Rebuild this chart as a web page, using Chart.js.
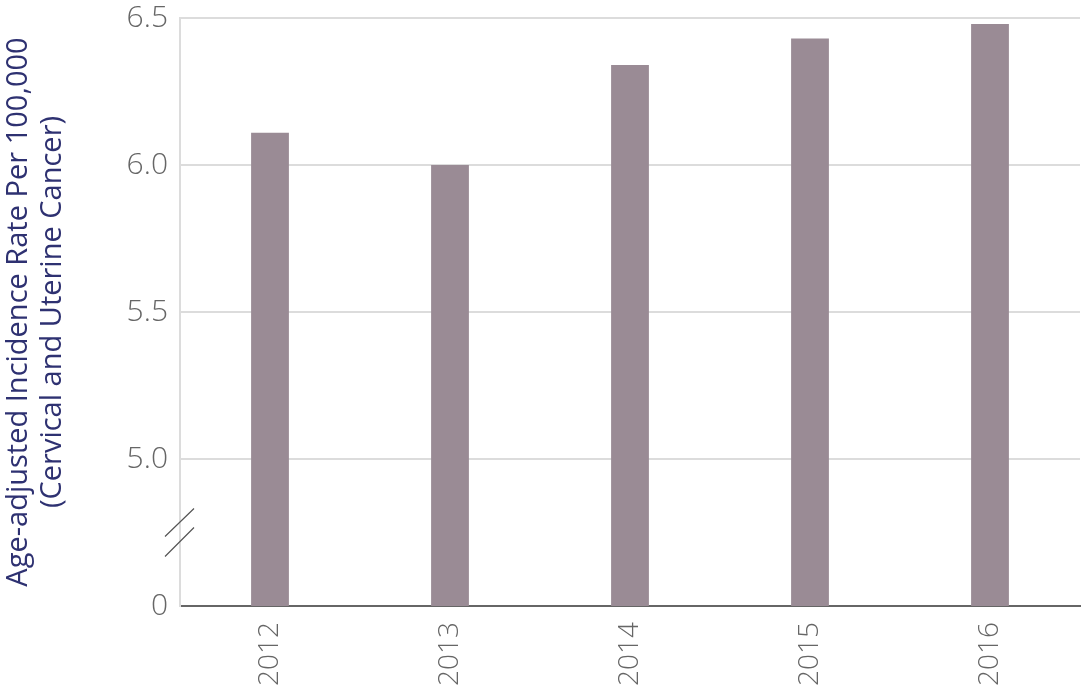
<!DOCTYPE html>
<html>
<head>
<meta charset="utf-8">
<script src="https://cdn.jsdelivr.net/npm/chart.js@4.4.0/dist/chart.umd.min.js"></script>
<style>
  html, body { margin: 0; padding: 0; background: #fff; }
  #wrap { width: 1084px; height: 696px; }
</style>
</head>
<body>
<div id="wrap"><canvas id="rateChart"></canvas></div>
<script>
const years = ['2012', '2013', '2014', '2015', '2016'];
const rates = [6.11, 6.00, 6.34, 6.43, 6.48];
const yTicks = [4.5, 5.0, 5.5, 6.0, 6.5];
const yTitle = ['Age-adjusted Incidence Rate Per 100,000', '(Cervical and Uterine Cancer)'];

// axis break marks between 0 and 5.0
const axisBreak = {
    id: 'axisBreak',
    afterDraw(c) {
        const ctx = c.ctx;
        const x = c.chartArea.left;
        const y = c.scales.y.getPixelForValue(4.75);
        ctx.save();
        ctx.strokeStyle = '#555';
        ctx.lineWidth = 1.2;
        ctx.beginPath();
        ctx.moveTo(x - 15, y + 4);
        ctx.lineTo(x + 14, y - 24);
        ctx.moveTo(x - 15, y + 24);
        ctx.lineTo(x + 14, y - 5);
        ctx.stroke();
        ctx.restore();
    }
};

const ctx = document.getElementById('rateChart').getContext('2d');
new Chart(ctx, {
    type: 'bar',
    data: {
        labels: years,
        datasets: [{
            data: rates,
            backgroundColor: '#9a8b95',
            barPercentage: 0.21,
            categoryPercentage: 1
        }]
    },
    options: {
        responsive: true,
        maintainAspectRatio: false,
        animation: false,
        layout: { padding: { top: 18, right: 4, left: 0, bottom: 0 } },
        plugins: {
            legend: { display: false },
            tooltip: { enabled: false }
        },
        scales: {
            x: {
                grid: { display: false },
                border: { display: true, color: '#666', width: 2 },
                ticks: {
                    color: '#666',
                    font: { family: 'Open Sans', size: 28, weight: 300 },
                    minRotation: 90,
                    maxRotation: 90,
                    padding: 8
                },
                afterFit: s => { s.height = 90; }
            },
            y: {
                min: 4.5,
                max: 6.5,
                afterBuildTicks: s => { s.ticks = yTicks.map(v => ({ value: v })); },
                grid: {
                    color: c => c.tick && c.tick.value === 4.5 ? 'rgba(0,0,0,0)' : '#dcdcdc',
                    lineWidth: 2,
                    drawTicks: false
                },
                border: { color: '#dcdcdc', width: 2 },
                ticks: {
                    color: '#666',
                    font: { family: 'Open Sans', size: 30, weight: 300 },
                    padding: 12,
                    callback: v => v === 4.5 ? '0' : v.toFixed(1)
                },
                title: {
                    display: true,
                    text: yTitle,
                    color: '#2e3171',
                    font: { family: 'Open Sans', size: 29, weight: 400, lineHeight: 1.17 },
                    padding: { top: 2, bottom: 8 }
                },
                afterFit: s => {
                    s.width = 180;
                    s.paddingTop = 0;
                    s.paddingBottom = 0;
                }
            }
        }
    },
    plugins: [axisBreak]
});
</script>
</body>
</html>
